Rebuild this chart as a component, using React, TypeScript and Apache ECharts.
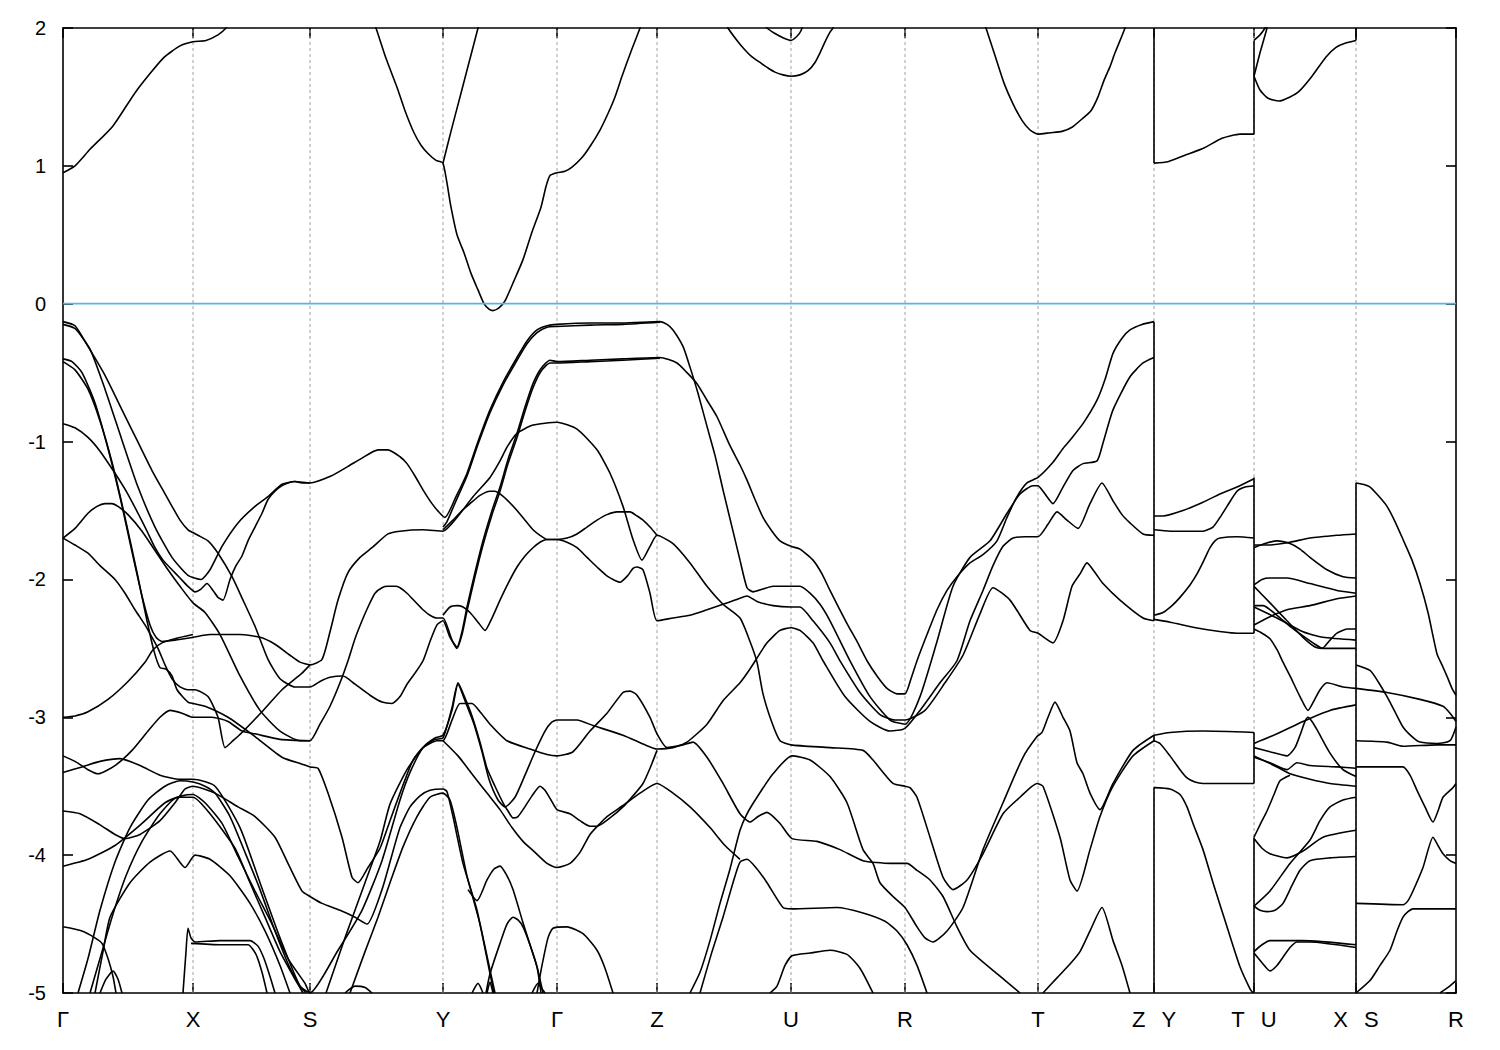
import React, { useEffect, useRef } from "react";
import * as echarts from "echarts";

// High-symmetry points along the k-path (path coordinate) and their labels
const K_POS = [63, 193, 310, 443, 557, 657, 791, 905, 1038, 1154, 1254, 1356, 1456];
const K_LABELS = ["Γ", "X", "S", "Y", "Γ", "Z", "U", "R", "T", "Z|Y", "T|U", "X|S", "R"];
const E_MIN = -5;
const E_MAX = 2;
const E_STEP = 1;
const FERMI = 0;

// ---------- conduction bands ----------
const CB_01 = [[63,0.95],[75,1.0],[90,1.12],[113,1.29],[136,1.54],[163,1.78],[180,1.87],[193,1.9],[206,1.91],[218,1.95],[226,2.0],[234,2.08]];
const CB_02 = [[371,2.1],[376,2.0],[386,1.78],[397,1.57],[405,1.4],[414,1.24],[421,1.15],[428,1.09],[436,1.04],[443,1.02],[451,0.7],[457,0.5],[464,0.37],[471,0.22],[478,0.1],[484,0.0],[489,-0.04],[493,-0.05],[499,-0.03],[505,0.02],[513,0.15],[523,0.32],[532,0.52],[541,0.7],[546,0.85],[550,0.93],[557,0.95],[565,0.96],[572,0.99],[582,1.06],[590,1.14],[600,1.26],[608,1.38],[615,1.5],[622,1.65],[631,1.83],[640,2.0],[644,2.1]];
const CB_03 = [[443,1.02],[451,1.25],[460,1.5],[469,1.75],[478,2.0],[481,2.1]];
const CB_04 = [[722,2.1],[728,2.0],[738,1.9],[745,1.84],[752,1.79],[760,1.75],[768,1.71],[775,1.68],[783,1.66],[791,1.65],[800,1.66],[808,1.69],[815,1.75],[820,1.82],[825,1.9],[830,1.97],[833,2.0],[836,2.1]];
const CB_05 = [[762,2.05],[767,2.0],[775,1.96],[783,1.93],[791,1.91],[797,1.94],[801,1.98],[804,2.05]];
const CB_06 = [[982,2.1],[986,2.0],[995,1.8],[1004,1.6],[1013,1.45],[1022,1.33],[1030,1.26],[1038,1.23],[1050,1.24],[1062,1.25],[1072,1.28],[1082,1.34],[1091,1.4],[1098,1.5],[1104,1.62],[1110,1.72],[1115,1.82],[1125,2.0],[1128,2.1]];
const CB_07 = [[1154,1.02],[1168,1.03],[1186,1.08],[1204,1.13],[1222,1.2],[1240,1.23],[1254,1.23]];
const CB_08 = [[1254,1.65],[1260,1.55],[1268,1.49],[1279,1.47],[1290,1.5],[1299,1.54],[1312,1.65],[1326,1.79],[1336,1.86],[1345,1.89],[1356,1.91]];
const CB_09 = [[1254,1.65],[1260,1.82],[1267,2.0],[1269,2.1]];
const CB_10 = [[1254,1.91],[1260,1.95],[1265,2.0],[1268,2.05]];

// ---------- valence bands ----------
const VB_01 = [[63,-0.15],[75,-0.18],[90,-0.33],[105,-0.62],[122,-0.99],[138,-1.33],[155,-1.62],[172,-1.84],[188,-1.97],[201,-2.0],[210,-1.93],[222,-1.76],[238,-1.59],[255,-1.47],[268,-1.4],[282,-1.31],[295,-1.29],[310,-1.3],[331,-1.25],[348,-1.18],[362,-1.12],[378,-1.06],[388,-1.06],[400,-1.11],[407,-1.16],[415,-1.25],[423,-1.35],[432,-1.45],[440,-1.52],[445,-1.55],[456,-1.4],[467,-1.23],[478,-1.0],[490,-0.77],[503,-0.57],[517,-0.39],[527,-0.27],[537,-0.19],[547,-0.16],[557,-0.15],[590,-0.14],[623,-0.14],[660,-0.13],[667,-0.15],[673,-0.19],[683,-0.31],[690,-0.46],[698,-0.65],[707,-0.89],[715,-1.1],[723,-1.35],[733,-1.65],[740,-1.86],[747,-2.06],[753,-2.09],[763,-2.07],[773,-2.05],[791,-2.05],[800,-2.05],[810,-2.1],[820,-2.18],[830,-2.3],[850,-2.59],[870,-2.85],[890,-3.02],[905,-3.05],[920,-2.85],[937,-2.45],[953,-2.05],[970,-1.84],[990,-1.72],[1007,-1.52],[1020,-1.38],[1033,-1.32],[1038,-1.32],[1043,-1.36],[1053,-1.45],[1063,-1.33],[1073,-1.21],[1083,-1.16],[1097,-1.14],[1103,-1.01],[1113,-0.77],[1130,-0.53],[1143,-0.43],[1154,-0.39]];
const VB_02 = [[63,-0.13],[75,-0.16],[88,-0.31],[105,-0.52],[122,-0.77],[137,-0.99],[152,-1.21],[162,-1.34],[172,-1.47],[180,-1.57],[188,-1.64],[193,-1.66],[198,-1.68],[208,-1.72],[218,-1.81],[232,-1.98],[243,-2.15],[255,-2.34],[268,-2.58],[280,-2.72],[295,-2.78],[310,-2.78],[320,-2.74],[330,-2.71],[343,-2.7],[355,-2.76],[370,-2.84],[382,-2.89],[392,-2.9],[400,-2.85],[407,-2.76],[415,-2.68],[423,-2.59],[430,-2.45],[437,-2.33],[443,-2.3],[450,-2.42],[457,-2.49],[462,-2.38],[467,-2.2],[475,-1.95],[483,-1.72],[492,-1.5],[500,-1.33],[508,-1.13],[517,-0.94],[525,-0.75],[533,-0.58],[541,-0.47],[550,-0.41],[557,-0.42],[590,-0.41],[623,-0.4],[660,-0.39],[677,-0.43],[687,-0.5],[697,-0.58],[707,-0.7],[717,-0.82],[730,-1.03],[740,-1.17],[747,-1.28],[755,-1.42],[763,-1.55],[772,-1.65],[780,-1.72],[791,-1.76],[800,-1.78],[813,-1.86],[822,-1.96],[830,-2.08],[847,-2.32],[857,-2.45],[867,-2.59],[877,-2.7],[887,-2.79],[897,-2.83],[905,-2.83],[911,-2.72],[917,-2.59],[927,-2.4],[937,-2.22],[947,-2.08],[957,-1.98],[970,-1.88],[983,-1.82],[997,-1.72],[1007,-1.55],[1017,-1.4],[1027,-1.3],[1038,-1.26],[1053,-1.15],[1063,-1.05],[1070,-0.99],[1083,-0.87],[1097,-0.7],[1105,-0.55],[1113,-0.36],[1122,-0.25],[1130,-0.19],[1142,-0.15],[1154,-0.13]];
const VB_03 = [[443,-1.62],[447,-1.58],[456,-1.43],[467,-1.25],[478,-1.02],[490,-0.79],[503,-0.59],[517,-0.41],[527,-0.29],[537,-0.21],[547,-0.17],[557,-0.165],[590,-0.155],[623,-0.15],[660,-0.135]];
const VB_04 = [[63,-1.7],[75,-1.63],[88,-1.52],[97,-1.47],[105,-1.45],[112,-1.45],[118,-1.47],[128,-1.53],[142,-1.65],[155,-1.79],[168,-1.93],[180,-2.05],[193,-2.17],[205,-2.24],[220,-2.4],[240,-2.7],[260,-2.95],[280,-3.1],[300,-3.17],[310,-3.17],[320,-3.05],[330,-2.92],[340,-2.75],[348,-2.59],[355,-2.43],[362,-2.3],[368,-2.2],[375,-2.1],[382,-2.06],[388,-2.05],[395,-2.05],[400,-2.06],[407,-2.1],[415,-2.16],[423,-2.22],[430,-2.26],[437,-2.28],[443,-2.28],[452,-2.44],[457,-2.5],[462,-2.4],[467,-2.23],[475,-1.98],[483,-1.75],[492,-1.53],[500,-1.36],[508,-1.16],[517,-0.97],[525,-0.78],[533,-0.61],[541,-0.49],[550,-0.43],[557,-0.43],[590,-0.42],[623,-0.41],[660,-0.395]];
const VB_05 = [[63,-0.87],[75,-0.9],[88,-0.97],[100,-1.07],[115,-1.23],[127,-1.37],[138,-1.52],[147,-1.65],[155,-1.77],[163,-1.86],[172,-1.93],[180,-1.99],[188,-2.05],[195,-2.09],[201,-2.07],[207,-2.03],[213,-2.08],[218,-2.13],[223,-2.15],[230,-2.0],[236,-1.9],[242,-1.83],[248,-1.72],[255,-1.62],[262,-1.52],[268,-1.42],[275,-1.36],[282,-1.32],[288,-1.3],[295,-1.29],[302,-1.3],[310,-1.3]];
const VB_06 = [[63,-0.4],[72,-0.42],[82,-0.5],[95,-0.72],[108,-1.05],[120,-1.4],[132,-1.8],[142,-2.12],[150,-2.33],[156,-2.42],[162,-2.45],[175,-2.44],[193,-2.42],[210,-2.4],[240,-2.4],[260,-2.42],[275,-2.47],[290,-2.55],[300,-2.6],[310,-2.62],[322,-2.58],[330,-2.38],[338,-2.15],[348,-1.95],[360,-1.84],[372,-1.77],[388,-1.67],[400,-1.65],[423,-1.64],[443,-1.65],[457,-1.55],[473,-1.4],[490,-1.26],[500,-1.14],[507,-1.04],[517,-0.94],[533,-0.88],[557,-0.86],[577,-0.91],[597,-1.06],[610,-1.23],[623,-1.47],[633,-1.71],[642,-1.86],[650,-1.76],[657,-1.68],[673,-1.74],[690,-1.88],[707,-2.05],[723,-2.18],[740,-2.28],[750,-2.45],[757,-2.6],[763,-2.83],[772,-3.04],[780,-3.17],[791,-3.2],[830,-3.22],[863,-3.24],[873,-3.31],[893,-3.48],[905,-3.5],[910,-3.51],[917,-3.58],[930,-3.87],[943,-4.16],[953,-4.25],[967,-4.18],[983,-3.99],[1003,-3.7],[1020,-3.58],[1037,-3.48],[1043,-3.5],[1060,-3.87],[1070,-4.18],[1077,-4.26],[1090,-3.96],[1100,-3.72],[1113,-3.5],[1133,-3.28],[1154,-3.17]];
const VB_07 = [[63,-0.42],[75,-0.48],[88,-0.62],[100,-0.85],[112,-1.15],[125,-1.55],[137,-1.95],[147,-2.3],[154,-2.52],[160,-2.64],[166,-2.65],[172,-2.7],[177,-2.8],[188,-2.89],[193,-2.9],[205,-2.92],[228,-3.0],[255,-3.14],[282,-3.29],[302,-3.34],[310,-3.36],[318,-3.37],[328,-3.55],[342,-3.87],[352,-4.16],[358,-4.2],[368,-4.09],[380,-3.95],[390,-3.75],[400,-3.55],[413,-3.31],[423,-3.22],[437,-3.17],[443,-3.17],[452,-3.02],[460,-2.9],[472,-2.9],[480,-2.96],[490,-3.05],[507,-3.17],[530,-3.23],[547,-3.27],[557,-3.28],[573,-3.25],[590,-3.1],[607,-2.97],[623,-2.82],[630,-2.81],[637,-2.84],[650,-3.0],[657,-3.12],[667,-3.22],[683,-3.2],[693,-3.18],[707,-3.29],[723,-3.48],[740,-3.7],[750,-3.76],[758,-3.72],[767,-3.69],[780,-3.77],[792,-3.88],[817,-3.9],[840,-3.96],[863,-4.04],[890,-4.06],[907,-4.06],[917,-4.11],[930,-4.18],[943,-4.3],[957,-4.52],[970,-4.69],[997,-4.86],[1020,-5.0]];
const VB_08 = [[63,-1.7],[75,-1.75],[88,-1.81],[100,-1.9],[115,-2.0],[125,-2.1],[135,-2.22],[145,-2.33],[152,-2.42],[158,-2.5],[165,-2.62],[172,-2.72],[180,-2.78],[188,-2.8],[195,-2.8],[208,-2.85],[218,-3.0],[225,-3.22],[233,-3.17],[242,-3.11],[262,-2.96],[282,-2.8],[302,-2.68],[310,-2.62]];
const VB_09 = [[63,-3.0],[75,-2.99],[88,-2.96],[108,-2.87],[128,-2.74],[145,-2.6],[153,-2.51],[162,-2.46],[175,-2.43],[193,-2.4]];
const VB_10 = [[63,-3.28],[75,-3.32],[88,-3.38],[98,-3.41],[115,-3.35],[132,-3.24],[148,-3.1],[160,-3.0],[170,-2.95],[182,-2.97],[193,-3.0],[212,-3.0],[228,-3.03],[242,-3.1],[255,-3.12],[280,-3.16],[310,-3.17]];
const VB_11 = [[63,-3.4],[82,-3.36],[100,-3.32],[120,-3.3],[140,-3.35],[160,-3.42],[180,-3.45],[193,-3.45],[215,-3.5],[240,-3.8],[260,-4.2],[280,-4.6],[300,-4.95],[310,-5.0]];
const VB_12 = [[63,-3.68],[80,-3.7],[100,-3.78],[115,-3.85],[125,-3.88],[140,-3.85],[160,-3.75],[175,-3.62],[185,-3.52],[193,-3.5],[215,-3.55],[238,-3.65],[255,-3.72],[275,-3.87],[288,-4.06],[302,-4.26],[310,-4.3],[322,-4.35],[340,-4.4],[355,-4.45],[367,-4.5],[382,-4.25],[390,-4.05],[400,-3.8],[410,-3.65],[420,-3.57],[430,-3.53],[443,-3.52],[447,-3.54],[453,-3.72],[463,-4.06],[477,-4.4],[490,-4.86],[494,-5.0]];
const VB_13 = [[63,-4.08],[88,-4.03],[115,-3.93],[142,-3.77],[165,-3.62],[182,-3.57],[193,-3.56],[205,-3.62],[222,-3.77],[238,-4.01],[255,-4.26],[272,-4.5],[288,-4.75],[305,-4.93],[310,-5.0],[338,-4.69],[362,-4.4],[382,-4.04],[400,-3.6],[410,-3.4],[423,-3.22],[435,-3.15],[443,-3.13],[452,-2.95],[458,-2.76],[466,-2.9],[474,-3.05],[482,-3.25],[489,-3.45],[498,-3.6],[505,-3.65],[515,-3.58],[525,-3.42],[535,-3.25],[545,-3.1],[551,-3.04],[557,-3.02],[577,-3.02],[593,-3.06],[623,-3.13],[645,-3.2],[657,-3.23],[673,-3.22],[687,-3.18],[707,-3.05],[723,-2.88],[740,-2.75],[750,-2.65],[757,-2.57],[767,-2.46],[780,-2.37],[791,-2.35],[800,-2.37],[813,-2.46],[823,-2.59],[845,-2.85],[870,-3.03],[890,-3.1],[905,-3.08],[920,-2.95],[940,-2.75],[957,-2.59],[970,-2.3],[983,-2.08],[993,-1.9],[1003,-1.76],[1013,-1.7],[1025,-1.69],[1038,-1.69],[1048,-1.6],[1057,-1.51],[1067,-1.57],[1078,-1.63],[1090,-1.45],[1102,-1.3],[1113,-1.43],[1122,-1.53],[1130,-1.59],[1143,-1.67],[1154,-1.68]];
const VB_14 = [[350,-5.0],[365,-4.7],[378,-4.45],[390,-4.2],[403,-3.94],[417,-3.72],[430,-3.58],[443,-3.55],[450,-3.6],[457,-3.8],[467,-4.15],[480,-4.5],[492,-4.9],[495,-5.0]];
const VB_15 = [[326,-5.0],[345,-4.6],[365,-4.2],[380,-3.9],[390,-3.63],[407,-3.38],[423,-3.22],[435,-3.16],[443,-3.15],[452,-2.93],[458,-2.75],[465,-2.86],[472,-2.99],[480,-3.18],[487,-3.37],[495,-3.5],[503,-3.62],[508,-3.68],[513,-3.73],[518,-3.72],[523,-3.67],[532,-3.57],[540,-3.5],[545,-3.53],[551,-3.6],[557,-3.67],[570,-3.7],[580,-3.75],[590,-3.79],[597,-3.79],[610,-3.73],[623,-3.65],[633,-3.57],[643,-3.48],[650,-3.37],[657,-3.24]];
const VB_16 = [[443,-3.17],[458,-3.28],[473,-3.42],[487,-3.55],[500,-3.67],[512,-3.8],[523,-3.9],[535,-3.98],[547,-4.06],[557,-4.09],[570,-4.06],[580,-3.98],[590,-3.85],[600,-3.77],[607,-3.72],[623,-3.64],[640,-3.55],[657,-3.48],[673,-3.55],[690,-3.65],[710,-3.8],[725,-3.93],[740,-4.03]];
const VB_17 = [[443,-2.26],[450,-2.2],[457,-2.19],[463,-2.2],[470,-2.24],[478,-2.31],[485,-2.37],[492,-2.28],[500,-2.15],[508,-2.03],[517,-1.91],[525,-1.83],[533,-1.77],[540,-1.73],[547,-1.71],[557,-1.71],[567,-1.73],[577,-1.77],[587,-1.84],[597,-1.91],[608,-1.98],[620,-2.02],[628,-1.97],[633,-1.92],[637,-1.91],[643,-1.93],[650,-2.1],[657,-2.3],[673,-2.28],[690,-2.26],[707,-2.22],[723,-2.18],[735,-2.15],[747,-2.12],[757,-2.16],[773,-2.19],[791,-2.2],[800,-2.2],[813,-2.3],[830,-2.46],[840,-2.59],[860,-2.82],[880,-2.98],[895,-3.02],[905,-3.02],[925,-2.95],[945,-2.75],[963,-2.55],[980,-2.25],[993,-2.06],[1010,-2.15],[1030,-2.37],[1038,-2.39],[1053,-2.46],[1063,-2.3],[1072,-2.05],[1080,-1.96],[1087,-1.88],[1095,-1.95],[1103,-2.03],[1120,-2.15],[1143,-2.28],[1154,-2.3]];
const VB_18 = [[443,-1.64],[453,-1.57],[462,-1.5],[470,-1.45],[480,-1.39],[490,-1.36],[495,-1.36],[500,-1.38],[508,-1.43],[517,-1.5],[525,-1.57],[533,-1.64],[540,-1.68],[547,-1.71],[557,-1.71],[567,-1.7],[577,-1.67],[587,-1.62],[597,-1.57],[607,-1.53],[617,-1.51],[630,-1.51],[637,-1.54],[643,-1.57],[650,-1.62],[657,-1.68]];
const VB_19 = [[690,-5.0],[700,-4.85],[710,-4.62],[720,-4.35],[730,-4.1],[740,-3.82],[747,-3.7],[757,-3.58],[773,-3.41],[792,-3.28],[810,-3.31],[830,-3.43],[847,-3.62],[863,-3.96],[873,-4.06],[880,-4.2],[893,-4.3],[905,-4.38],[917,-4.52],[925,-4.6],[933,-4.63],[947,-4.55],[963,-4.38],[983,-3.96],[1003,-3.62],[1023,-3.29],[1037,-3.14],[1042,-3.11],[1048,-3.0],[1055,-2.89],[1063,-3.0],[1070,-3.1],[1077,-3.33],[1083,-3.41],[1090,-3.55],[1100,-3.67],[1113,-3.48],[1133,-3.24],[1154,-3.13]];
const VB_20 = [[700,-5.0],[712,-4.7],[723,-4.45],[733,-4.2],[740,-4.05],[747,-4.03],[757,-4.1],[767,-4.2],[783,-4.38],[792,-4.39],[837,-4.38],[863,-4.42],[885,-4.48],[897,-4.55],[907,-4.65],[917,-4.8],[927,-5.0]];
const VB_21 = [[770,-5.0],[777,-4.95],[785,-4.8],[792,-4.73],[810,-4.71],[830,-4.69],[847,-4.72],[860,-4.82],[873,-5.0]];
const VB_22 = [[1043,-5.0],[1057,-4.89],[1070,-4.79],[1080,-4.7],[1090,-4.55],[1102,-4.38],[1113,-4.62],[1122,-4.8],[1130,-5.0]];
const VB_23 = [[63,-4.52],[82,-4.55],[95,-4.6],[102,-4.64],[108,-4.75],[113,-4.88],[116,-5.0]];
const VB_24 = [[183,-5.0],[186,-4.7],[188,-4.53],[191,-4.6],[195,-4.63],[220,-4.62],[250,-4.62],[258,-4.66],[264,-4.75],[270,-4.88],[275,-5.0]];
const VB_25 = [[191,-4.64],[220,-4.65],[248,-4.65],[256,-4.72],[262,-4.85],[267,-5.0]];
const VB_26 = [[78,-5.0],[88,-4.75],[100,-4.4],[115,-4.05],[130,-3.8],[148,-3.6],[165,-3.5],[180,-3.46],[193,-3.47],[205,-3.5],[215,-3.55],[230,-3.72],[245,-3.98],[260,-4.25],[275,-4.55],[290,-4.82],[300,-4.95],[306,-5.0]];
const VB_27 = [[90,-5.0],[100,-4.75],[112,-4.45],[126,-4.15],[142,-3.9],[160,-3.7],[178,-3.58],[193,-3.58],[210,-3.7],[235,-3.95],[250,-4.2],[265,-4.45],[280,-4.7],[295,-4.9],[303,-5.0]];
const VB_28 = [[95,-5.0],[103,-4.7],[110,-4.45],[130,-4.2],[150,-4.05],[170,-3.97],[185,-4.09],[195,-4.0],[210,-4.03],[230,-4.15],[250,-4.35],[265,-4.55],[280,-4.8],[290,-5.0]];
const VB_29 = [[100,-5.0],[106,-4.9],[113,-4.84],[118,-4.9],[122,-5.0]];
const VB_30 = [[468,-4.25],[477,-4.33],[487,-4.18],[494,-4.1],[500,-4.08],[507,-4.15],[513,-4.25],[523,-4.49],[530,-4.65],[537,-4.81],[543,-5.0]];
const VB_31 = [[486,-5.0],[490,-4.86],[500,-4.64],[507,-4.5],[513,-4.45],[518,-4.47],[523,-4.52],[530,-4.65],[537,-4.81],[541,-5.0]];
const VB_32 = [[537,-5.0],[542,-4.8],[548,-4.6],[553,-4.53],[567,-4.52],[583,-4.57],[597,-4.69],[605,-4.82],[613,-5.0]];
const VB_33 = [[472,-5.0],[478,-4.93],[483,-5.0]];
const VB_34 = [[487,-5.0],[490,-4.92],[493,-5.0]];
const VB_35 = [[532,-5.0],[538,-4.93],[542,-4.97],[545,-5.0]];
const VB_36 = [[345,-5.0],[355,-4.95],[365,-4.96],[372,-5.0]];

// Y -> T segment
const YT_01 = [[1154,-1.54],[1163,-1.54],[1183,-1.5],[1203,-1.44],[1220,-1.38],[1237,-1.33],[1254,-1.27]];
const YT_02 = [[1154,-1.64],[1170,-1.65],[1203,-1.65],[1213,-1.62],[1220,-1.55],[1227,-1.47],[1237,-1.36],[1245,-1.33],[1254,-1.32]];
const YT_03 = [[1154,-2.26],[1163,-2.24],[1172,-2.19],[1180,-2.13],[1190,-2.04],[1197,-1.96],[1204,-1.86],[1210,-1.77],[1215,-1.72],[1220,-1.7],[1237,-1.69],[1254,-1.7]];
const YT_04 = [[1154,-2.29],[1170,-2.31],[1203,-2.36],[1237,-2.39],[1254,-2.39]];
const YT_05 = [[1154,-3.13],[1170,-3.11],[1203,-3.1],[1254,-3.11]];
const YT_06 = [[1154,-3.17],[1160,-3.19],[1170,-3.28],[1180,-3.38],[1187,-3.44],[1195,-3.47],[1203,-3.48],[1254,-3.48]];
const YT_07 = [[1154,-3.51],[1170,-3.52],[1180,-3.56],[1187,-3.65],[1193,-3.77],[1203,-3.96],[1213,-4.2],[1227,-4.52],[1240,-4.81],[1250,-4.97],[1253,-5.0]];

// U -> X segment
const UX_01 = [[1254,-1.75],[1270,-1.75],[1290,-1.73],[1310,-1.7],[1337,-1.68],[1356,-1.67]];
const UX_02 = [[1254,-1.77],[1265,-1.74],[1277,-1.72],[1290,-1.74],[1300,-1.78],[1310,-1.84],[1327,-1.93],[1343,-1.98],[1356,-1.99]];
const UX_03 = [[1254,-2.04],[1262,-2.0],[1270,-1.99],[1287,-1.99],[1310,-2.03],[1337,-2.08],[1356,-2.1]];
const UX_04 = [[1254,-2.19],[1263,-2.19],[1277,-2.26],[1290,-2.34],[1303,-2.41],[1315,-2.47],[1323,-2.5],[1356,-2.5]];
const UX_05 = [[1254,-2.05],[1270,-2.17],[1287,-2.3],[1303,-2.42],[1315,-2.49],[1322,-2.5],[1330,-2.44],[1337,-2.39],[1347,-2.36],[1356,-2.36]];
const UX_06 = [[1254,-2.2],[1277,-2.28],[1303,-2.38],[1323,-2.42],[1356,-2.44]];
const UX_07 = [[1254,-2.33],[1270,-2.27],[1287,-2.22],[1310,-2.19],[1337,-2.14],[1356,-2.12]];
const UX_08 = [[1254,-2.36],[1262,-2.39],[1270,-2.43],[1277,-2.51],[1283,-2.6],[1290,-2.7],[1300,-2.85],[1308,-2.95],[1314,-2.88],[1320,-2.8],[1327,-2.75],[1343,-2.78],[1356,-2.79]];
const UX_09 = [[1254,-3.19],[1277,-3.12],[1303,-3.03],[1330,-2.95],[1356,-2.91]];
const UX_10 = [[1254,-3.22],[1270,-3.25],[1287,-3.28],[1295,-3.22],[1300,-3.13],[1305,-3.03],[1308,-3.0],[1312,-3.03],[1317,-3.09],[1330,-3.26],[1343,-3.38],[1356,-3.43]];
const UX_11 = [[1254,-3.29],[1270,-3.33],[1287,-3.38],[1297,-3.33],[1310,-3.35],[1337,-3.36],[1356,-3.37]];
const UX_12 = [[1254,-3.28],[1277,-3.36],[1290,-3.41],[1310,-3.45],[1330,-3.48],[1356,-3.5]];
const UX_13 = [[1254,-3.87],[1260,-3.78],[1267,-3.68],[1274,-3.56],[1280,-3.46],[1290,-3.42]];
const UX_14 = [[1254,-3.88],[1262,-3.95],[1270,-3.99],[1287,-4.02],[1303,-3.97],[1323,-3.87],[1356,-3.82]];
const UX_15 = [[1254,-4.37],[1270,-4.26],[1290,-4.06],[1310,-3.89],[1320,-3.75],[1330,-3.65],[1343,-3.6],[1356,-3.58]];
const UX_16 = [[1254,-4.37],[1260,-4.4],[1267,-4.41],[1275,-4.4],[1283,-4.35],[1292,-4.22],[1300,-4.11],[1310,-4.04],[1330,-4.02],[1356,-4.01]];
const UX_17 = [[1254,-4.7],[1262,-4.65],[1270,-4.62],[1303,-4.62],[1356,-4.65]];
const UX_18 = [[1254,-4.71],[1262,-4.78],[1270,-4.84],[1277,-4.8],[1283,-4.74],[1290,-4.67],[1297,-4.63],[1310,-4.63],[1356,-4.67]];

// S -> R segment
const SR_01 = [[1356,-1.3],[1363,-1.31],[1370,-1.33],[1378,-1.39],[1387,-1.47],[1395,-1.58],[1403,-1.71],[1412,-1.86],[1420,-2.03],[1428,-2.24],[1437,-2.54],[1442,-2.62],[1448,-2.72],[1452,-2.79],[1456,-2.84]];
const SR_02 = [[1356,-2.62],[1370,-2.66],[1378,-2.74],[1387,-2.85],[1395,-2.96],[1403,-3.07],[1412,-3.14],[1420,-3.18],[1437,-3.19],[1450,-3.17],[1456,-3.07]];
const SR_03 = [[1356,-2.79],[1387,-2.82],[1420,-2.87],[1443,-2.92],[1450,-2.97],[1456,-3.03]];
const SR_04 = [[1356,-3.17],[1387,-3.18],[1403,-3.21],[1437,-3.2],[1456,-3.2]];
const SR_05 = [[1356,-3.36],[1403,-3.36],[1410,-3.42],[1417,-3.53],[1425,-3.65],[1433,-3.76],[1438,-3.68],[1443,-3.58],[1453,-3.51],[1456,-3.48]];
const SR_06 = [[1356,-4.35],[1403,-4.36],[1408,-4.33],[1413,-4.26],[1423,-4.09],[1433,-3.87],[1438,-3.93],[1443,-3.99],[1450,-4.04],[1456,-4.06]];
const SR_07 = [[1356,-5.0],[1370,-4.91],[1380,-4.8],[1390,-4.69],[1397,-4.55],[1403,-4.45],[1408,-4.41],[1413,-4.39],[1456,-4.39]];
const SR_08 = [[1440,-5.0],[1448,-4.96],[1456,-4.91]];

// band discontinuities at the path breaks: [k, E from, E to]
const JUMPS = [
  [1154, 1.02, 2.0], [1254, 1.23, 1.91], [1356, 1.91, 2.0],
  [1154, -0.13, -2.3], [1154, -3.13, -3.18], [1154, -3.51, -5.0],
  [1254, -1.26, -2.39], [1254, -3.11, -3.48], [1254, -3.87, -5.0],
  [1356, -1.3, -5.0],
];

const BANDS = [
  CB_01, CB_02, CB_03, CB_04, CB_05, CB_06, CB_07, CB_08, CB_09, CB_10,
  VB_01, VB_02, VB_03, VB_04, VB_05, VB_06, VB_07, VB_08, VB_09, VB_10,
  VB_11, VB_12, VB_13, VB_14, VB_15, VB_16, VB_17, VB_18, VB_19, VB_20,
  VB_21, VB_22, VB_23, VB_24, VB_25, VB_26, VB_27, VB_28, VB_29, VB_30,
  VB_31, VB_32, VB_33, VB_34, VB_35, VB_36,
  YT_01, YT_02, YT_03, YT_04, YT_05, YT_06, YT_07,
  UX_01, UX_02, UX_03, UX_04, UX_05, UX_06, UX_07, UX_08, UX_09, UX_10,
  UX_11, UX_12, UX_13, UX_14, UX_15, UX_16, UX_17, UX_18,
  SR_01, SR_02, SR_03, SR_04, SR_05, SR_06, SR_07, SR_08,
];

const FONT = "'Liberation Sans', Arial, sans-serif";

function kLabel(v: number) {
  const i = K_POS.indexOf(v);
  if (i < 0) return "";
  const t = K_LABELS[i];
  if (t.indexOf("|") >= 0) {
    const [a, b] = t.split("|");
    return `{l|${a}}{g|}{l|${b}}`;
  }
  return `{l|${t}}`;
}

function buildOption() {
  const bandSeries = BANDS.map((b) => ({
    type: "line",
    data: b,
    xAxisIndex: 0,
    yAxisIndex: 0,
    showSymbol: false,
    symbol: "none",
    smooth: 0.2,
    silent: true,
    z: 3,
    lineStyle: { color: "#000", width: 1.6 },
  }));
  const jumpSeries = JUMPS.map(([k, a, b]) => ({
    type: "line",
    data: [[k, a], [k, b]],
    showSymbol: false,
    symbol: "none",
    silent: true,
    z: 3,
    lineStyle: { color: "#000", width: 1.6 },
  }));
  const gridSeries = K_POS.slice(1, -1).map((k) => ({
    type: "line",
    data: [[k, E_MIN], [k, E_MAX]],
    showSymbol: false,
    symbol: "none",
    silent: true,
    z: 1,
    lineStyle: { color: "#a0a0a0", width: 1, type: [3, 3] },
  }));
  const fermiSeries = {
    type: "line",
    data: [[K_POS[0], FERMI], [K_POS[K_POS.length - 1], FERMI]],
    showSymbol: false,
    symbol: "none",
    silent: true,
    z: 5,
    lineStyle: { color: "#56b4e9", width: 1.8 },
  };

  const xCommon = {
    type: "value",
    min: K_POS[0],
    max: K_POS[K_POS.length - 1],
    splitLine: { show: false },
    axisLine: { show: true, onZero: false, lineStyle: { color: "#000", width: 1.6 } },
    axisTick: { show: true, inside: true, length: 10, customValues: K_POS, lineStyle: { color: "#000", width: 1.6 } },
  };
  const yCommon = {
    type: "value",
    min: E_MIN,
    max: E_MAX,
    interval: E_STEP,
    splitLine: { show: false },
    axisLine: { show: true, onZero: false, lineStyle: { color: "#000", width: 1.6 } },
    axisTick: { show: true, inside: true, length: 10, lineStyle: { color: "#000", width: 1.6 } },
  };

  return {
    animation: false,
    backgroundColor: "#fff",
    grid: { left: 63, right: 44, top: 28, bottom: 57, containLabel: false },
    xAxis: [
      {
        ...xCommon,
        position: "bottom",
        axisLabel: {
          show: true,
          customValues: K_POS,
          margin: 15,
          formatter: kLabel,
          rich: {
            l: { fontFamily: FONT, fontSize: 22, color: "#000" },
            g: { width: 16 },
          },
        },
      },
      { ...xCommon, position: "top", axisLabel: { show: false } },
    ],
    yAxis: [
      {
        ...yCommon,
        position: "left",
        axisLabel: { show: true, margin: 17, fontFamily: FONT, fontSize: 20, color: "#000" },
      },
      { ...yCommon, position: "right", axisLabel: { show: false } },
    ],
    series: [...gridSeries, ...bandSeries, ...jumpSeries, fermiSeries],
  };
}

export default function App() {
  const ref = useRef<HTMLDivElement>(null);
  useEffect(() => {
    if (!ref.current) return;
    const chart = echarts.init(ref.current, null, { renderer: "svg" });
    chart.setOption(buildOption() as any);
    return () => chart.dispose();
  }, []);
  return (
    <div
      ref={ref}
      style={{ position: "fixed", left: 0, top: 0, width: 1500, height: 1050, background: "#fff" }}
    />
  );
}
